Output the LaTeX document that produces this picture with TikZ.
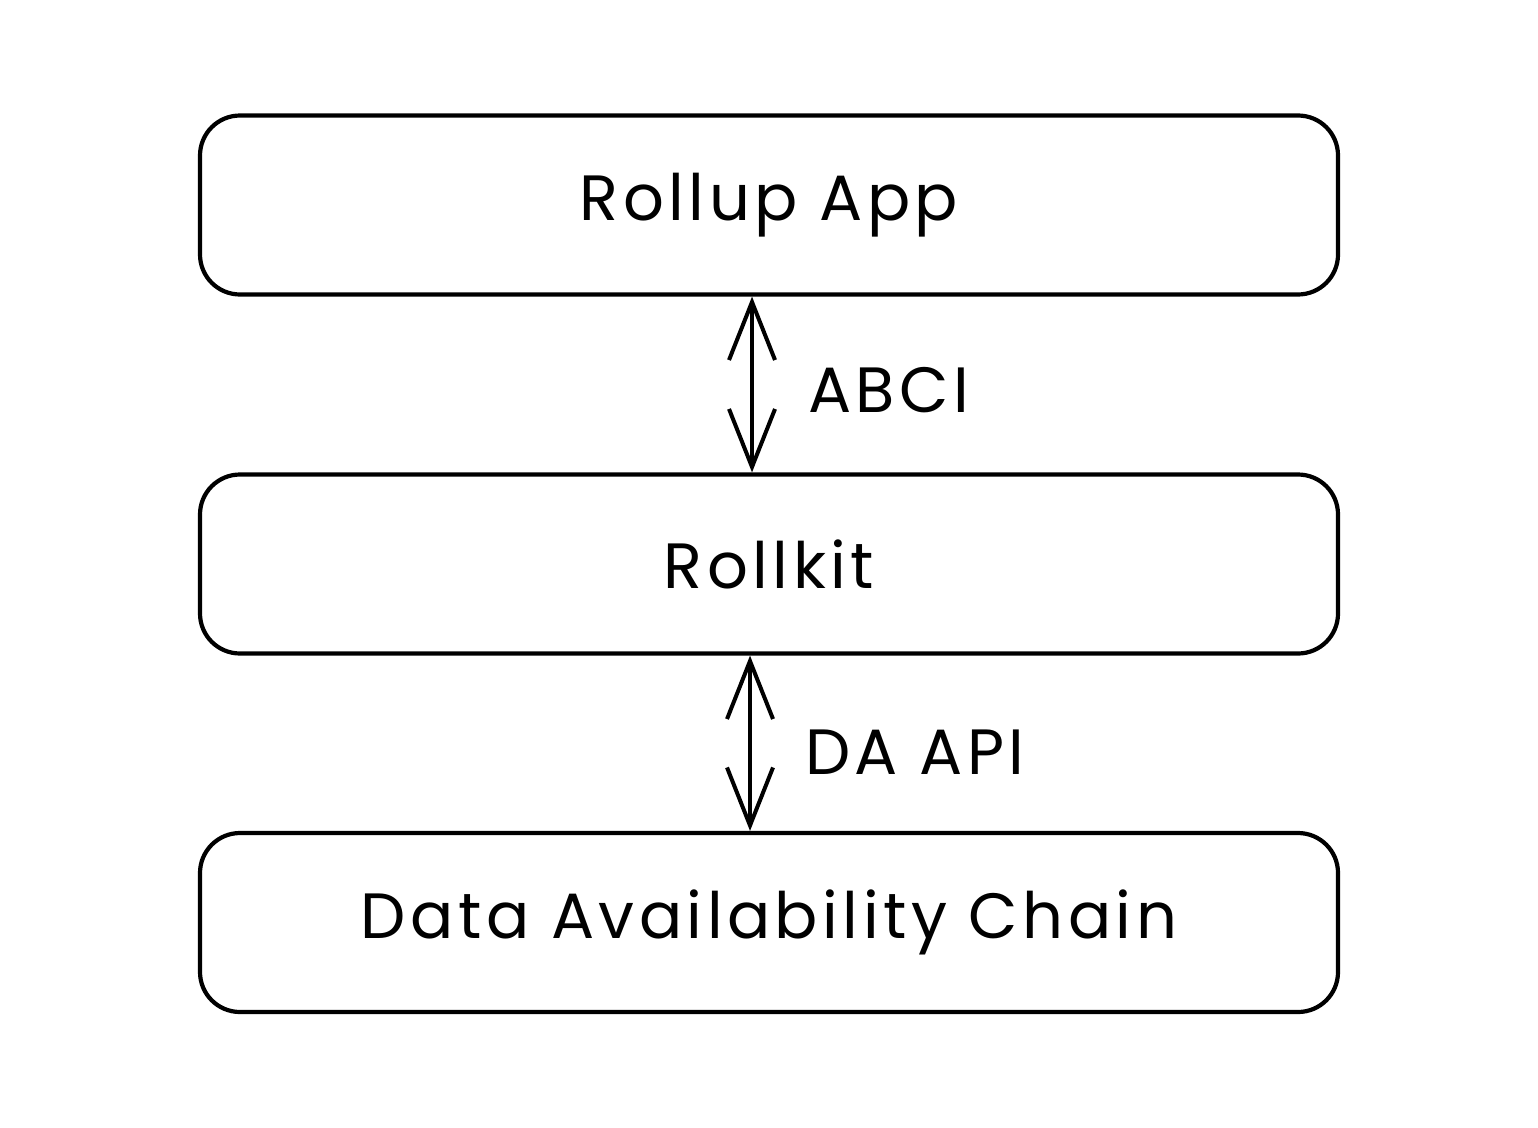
\documentclass[tikz,border=0pt]{standalone}
\usepackage{fontspec}
\setmainfont{Poppins}[LetterSpace=7]
\usetikzlibrary{arrows.meta}
\tikzset{
  layer/.style={draw=black, line width=4.2pt, rounded corners=40pt, minimum width=1138pt, minimum height=179pt, inner sep=0pt, font=\fontsize{64}{76}\selectfont},
  lbl/.style={anchor=west, inner sep=0pt, font=\fontsize{64}{76}\selectfont},
  link/.style={line width=4pt, {Straight Barb[length=58pt,width=46pt,line width=4pt]}-{Straight Barb[length=58pt,width=46pt,line width=4pt]}}
}
\begin{document}
\begin{tikzpicture}[x=1pt,y=-1pt]
\useasboundingbox[fill=white] (0,0) rectangle (1538,1127);
\node[layer] (app) at (769,205) {Rollup App};
\node[layer] (kit) at (769,564) {Rollkit};
\node[layer] (da) at (769,922.5) {Data Availability Chain};
\coordinate (c1) at (752,0);
\coordinate (c2) at (750,0);
\draw[link] (app.south -| c1) -- (kit.north -| c1);
\draw[link] (kit.south -| c2) -- (da.north -| c2);
\node[lbl] (abci) at (808,390) {ABCI};
\node[lbl] (daapi) at (805,752) {DA API};
\end{tikzpicture}
\end{document}
